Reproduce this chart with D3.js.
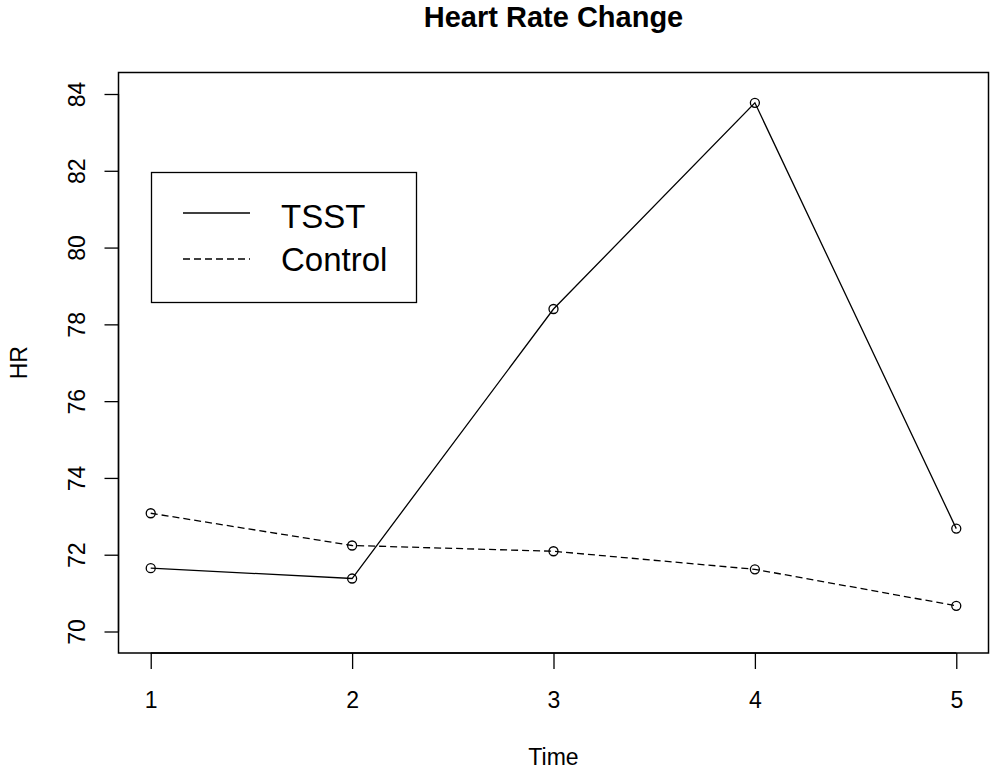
<!DOCTYPE html>
<html>
<head>
<meta charset="utf-8">
<script src="https://cdn.jsdelivr.net/npm/d3@7"></script>
<style>
  body { margin: 0; background: #fff; }
  text { font-family: "Liberation Sans", Arial, sans-serif; fill: #000; }
</style>
</head>
<body>
<svg id="chart" width="990" height="769"></svg>
<script>
// data
var times = [1, 2, 3, 4, 5];
var tsst = [71.65, 71.38, 78.40, 83.77, 72.68];
var control = [73.08, 72.24, 72.09, 71.62, 70.67];
var yTicks = [70, 72, 74, 76, 78, 80, 82, 84];

var box = {left: 118.5, right: 988.5, top: 72.5, bottom: 653};

var svg = d3.select("#chart");

// R style 4% padding on the axis ranges
var x = d3.scaleLinear()
    .domain([1 - 0.16, 5 + 0.16])
    .range([box.left, box.right]);

var y = d3.scaleLinear()
    .domain([70 - 0.56, 84 + 0.56])
    .range([box.bottom, box.top]);

// plot frame
svg.append("rect")
    .attr("x", box.left)
    .attr("y", box.top)
    .attr("width", box.right - box.left)
    .attr("height", box.bottom - box.top)
    .attr("fill", "none")
    .attr("stroke", "#000")
    .attr("stroke-width", 1.5);

// x axis
var xAxis = svg.append("g")
    .attr("transform", "translate(0," + box.bottom + ")")
    .call(d3.axisBottom(x).tickValues(times).tickSize(16).tickSizeOuter(0).tickFormat(d3.format("d")));
xAxis.select(".domain")
    .attr("d", "M" + x(1) + ",0H" + x(5))
    .attr("stroke-width", 1.3);
xAxis.selectAll(".tick line").attr("stroke-width", 1.3);
xAxis.selectAll(".tick text")
    .attr("font-size", 23)
    .attr("font-family", "Liberation Sans, Arial, sans-serif")
    .attr("dy", null)
    .attr("y", 54.5);

// y axis
var yAxis = svg.append("g")
    .attr("transform", "translate(" + box.left + ",0)")
    .call(d3.axisLeft(y).tickValues(yTicks).tickSize(14).tickSizeOuter(0).tickFormat(d3.format("d")));
yAxis.select(".domain")
    .attr("d", "M0," + y(70) + "V" + y(84))
    .attr("stroke-width", 1.3);
yAxis.selectAll(".tick line").attr("stroke-width", 1.3);
yAxis.selectAll(".tick text")
    .attr("font-size", 23)
    .attr("font-family", "Liberation Sans, Arial, sans-serif")
    .attr("x", null)
    .attr("dy", null)
    .attr("text-anchor", "middle")
    .attr("transform", "translate(-33.5,0) rotate(-90)");

// titles
svg.append("text")
    .attr("x", (box.left + box.right) / 2)
    .attr("y", 27)
    .attr("text-anchor", "middle")
    .attr("font-size", 29)
    .attr("font-weight", "bold")
    .text("Heart Rate Change");

svg.append("text")
    .attr("x", (box.left + box.right) / 2)
    .attr("y", 765)
    .attr("text-anchor", "middle")
    .attr("font-size", 23)
    .text("Time");

svg.append("text")
    .attr("transform", "translate(27," + (box.top + box.bottom) / 2 + ") rotate(-90)")
    .attr("text-anchor", "middle")
    .attr("font-size", 23)
    .text("HR");

// lines + points
var line = d3.line()
    .x(function(d, i) { return x(times[i]); })
    .y(function(d) { return y(d); });

var series = [
    {name: "TSST", values: tsst, dash: null},
    {name: "Control", values: control, dash: "7,4"}
];

series.forEach(function(s) {
    svg.append("path")
        .datum(s.values)
        .attr("d", line)
        .attr("fill", "none")
        .attr("stroke", "#000")
        .attr("stroke-width", 1.3)
        .attr("stroke-dasharray", s.dash);

    svg.selectAll(null)
        .data(s.values)
        .enter()
        .append("circle")
        .attr("cx", function(d, i) { return x(times[i]); })
        .attr("cy", function(d) { return y(d); })
        .attr("r", 4.5)
        .attr("fill", "none")
        .attr("stroke", "#000")
        .attr("stroke-width", 1.3);
});

// legend
var legend = svg.append("g");
legend.append("rect")
    .attr("x", 151.5)
    .attr("y", 172.5)
    .attr("width", 265)
    .attr("height", 130)
    .attr("fill", "none")
    .attr("stroke", "#000")
    .attr("stroke-width", 1.3);

series.forEach(function(s, i) {
    var ly = 213 + i * 46;
    legend.append("line")
        .attr("x1", 183)
        .attr("x2", 250)
        .attr("y1", ly)
        .attr("y2", ly)
        .attr("stroke", "#000")
        .attr("stroke-width", 1.3)
        .attr("stroke-dasharray", s.dash);
    legend.append("text")
        .attr("x", 281)
        .attr("y", 228 + i * 43)
        .attr("font-size", 33)
        .text(s.name);
});
</script>
</body>
</html>
